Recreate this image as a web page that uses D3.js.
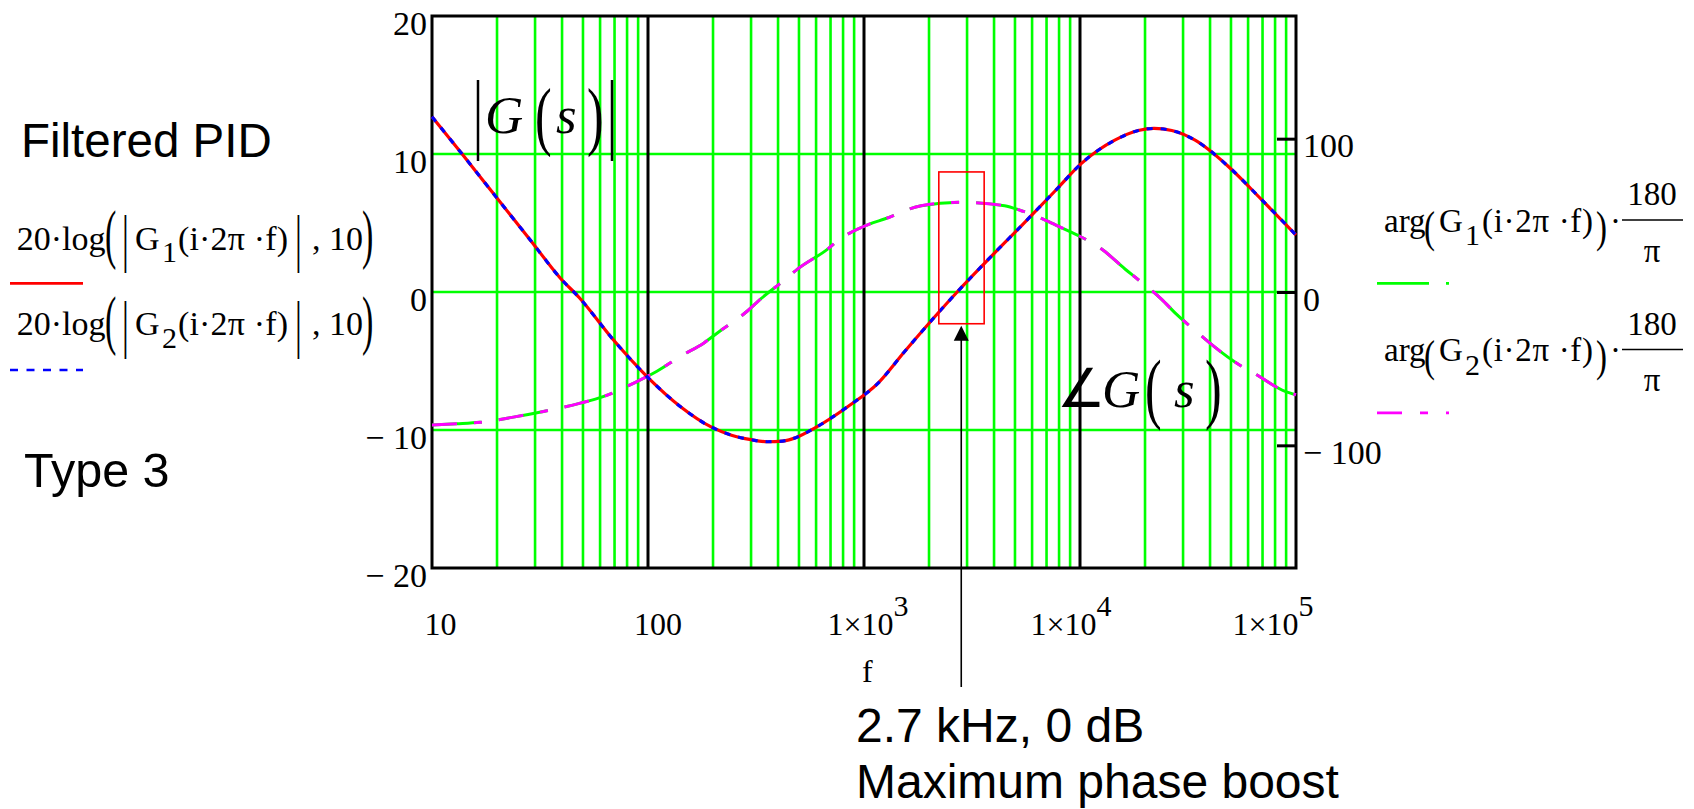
<!DOCTYPE html>
<html>
<head>
<meta charset="utf-8">
<script src="https://cdn.jsdelivr.net/npm/d3@7"></script>
<style>
  body { margin: 0; background: #fff; }
</style>
</head>
<body>
<div class="canvas"></div>
<script>
// ---- data ----
const magFreq = [10, 13.7, 19.2, 28.5, 39.3, 48, 69.4, 100, 141.5, 195, 241.5, 300, 357, 420, 492, 588, 840, 1159, 1539, 2198, 2700, 3615, 5353, 7643, 10160, 14490, 18620, 22000, 26600, 34120, 48750, 69500, 100000];
const magG1 = [12.7, 10.05, 7.15, 3.77, 1.0, -0.4, -3.5, -6.2, -8.31, -9.76, -10.36, -10.7, -10.85, -10.8, -10.5, -9.88, -8.31, -6.62, -4.33, -1.54, 0, 2.08, 4.8, 7.3, 9.32, 11.0, 11.7, 11.85, 11.7, 11.0, 9.08, 6.67, 4.13];
const magG2 = [12.7, 10.05, 7.15, 3.77, 1.0, -0.4, -3.5, -6.2, -8.31, -9.76, -10.36, -10.7, -10.85, -10.8, -10.5, -9.88, -8.31, -6.62, -4.33, -1.54, 0, 2.08, 4.8, 7.3, 9.32, 11.0, 11.7, 11.85, 11.7, 11.0, 9.08, 6.67, 4.13];

const phaseFreq = [10, 13, 16.7, 23.8, 32.8, 48.6, 62.4, 86, 110, 141.5, 181.6, 209.5, 288.5, 332.6, 434.5, 492, 678.5, 755, 1059, 1243, 1840, 2820, 4477, 5353, 6750, 7918, 10920, 12590, 16150, 18620, 23880, 27540, 36640, 40740, 56100, 63630, 89100, 100000];
const phaseG1 = [-86.8, -86, -85, -81.6, -77.9, -72.5, -68.1, -59.4, -51.7, -41.9, -33.2, -26.7, -12.4, -4.5, 8.5, 14.9, 28.0, 33.4, 44.3, 47.6, 56.3, 58.5, 56.3, 53.0, 47.6, 43, 33.4, 28.0, 15, 8, -4.8, -13.6, -28.8, -34.3, -48.5, -52.8, -64.8, -67];
const phaseG2 = [-86.8, -86, -85, -81.6, -77.9, -72.5, -68.1, -59.4, -51.7, -41.9, -33.2, -26.7, -12.4, -4.5, 8.5, 14.9, 28.0, 33.4, 44.3, 47.6, 56.3, 58.5, 56.3, 53.0, 47.6, 43, 33.4, 28.0, 15, 8, -4.8, -13.6, -28.8, -34.3, -48.5, -52.8, -64.8, -67];

const xTicks = [10, 100, 1e3, 1e4, 1e5];
const dbTicks = [-20, -10, 0, 10, 20];
const dbGrid = [-10, 0, 10];
const phaseTicks = [-100, 0, 100];
const decadeLines = [100, 1e3, 1e4];

// highlighted box and arrow (f in Hz, dB)
const boxF = [2220, 3600];
const boxDb = [-2.3, 8.7];
const arrowF = 2820;

// ---- layout ----
const serif = "'Liberation Serif', 'Times New Roman', serif";
const sans = "'Liberation Sans', Arial, sans-serif";
const plot = {left: 432, right: 1296, top: 16, bottom: 568};

const svg = d3.select('.canvas')
  .append('svg')
  .attr('width', 1694)
  .attr('height', 809)
  .style('display', 'block');

svg.append('rect').attr('width', 1694).attr('height', 809).attr('fill', '#fff');

const x = d3.scaleLog().domain([10, 1e5]).range([plot.left, plot.right]);
const y = d3.scaleLinear().domain([-20, 20]).range([plot.bottom, plot.top]);
const yPh = d3.scaleLinear().domain([-180, 180]).range([plot.bottom, plot.top]);

// grid
const grid = svg.append('g');
grid.selectAll('.vminor')
  .data(x.ticks().filter(f => !xTicks.includes(f)))
  .enter().append('line')
  .attr('x1', d => x(d)).attr('x2', d => x(d))
  .attr('y1', plot.top).attr('y2', plot.bottom)
  .attr('stroke', '#00ff00').attr('stroke-width', 2.6);
grid.selectAll('.hgrid')
  .data(dbGrid)
  .enter().append('line')
  .attr('x1', plot.left).attr('x2', plot.right)
  .attr('y1', d => y(d)).attr('y2', d => y(d))
  .attr('stroke', '#00ff00').attr('stroke-width', 2.6);
grid.selectAll('.vmajor')
  .data(decadeLines)
  .enter().append('line')
  .attr('x1', d => x(d)).attr('x2', d => x(d))
  .attr('y1', plot.top).attr('y2', plot.bottom)
  .attr('stroke', '#000').attr('stroke-width', 3);

svg.append('rect')
  .attr('x', plot.left).attr('y', plot.top)
  .attr('width', plot.right - plot.left).attr('height', plot.bottom - plot.top)
  .attr('fill', 'none').attr('stroke', '#000').attr('stroke-width', 3);

// axes
const yAxisG = svg.append('g')
  .attr('transform', `translate(${plot.left},0)`)
  .call(d3.axisLeft(y).tickValues(dbTicks).tickSize(0).tickPadding(5)
    .tickFormat(d => d < 0 ? '\u2212 ' + (-d) : String(d)));
yAxisG.select('.domain').remove();
yAxisG.attr('font-family', serif).attr('font-size', 34);
yAxisG.selectAll('text').attr('dy', 18).attr('fill', '#000');

const phAxisG = svg.append('g')
  .attr('transform', `translate(${plot.right},0)`)
  .call(d3.axisRight(yPh).tickValues(phaseTicks).tickSize(-19).tickPadding(8)
    .tickFormat(d => d < 0 ? '\u2212 ' + (-d) : String(d)));
phAxisG.select('.domain').remove();
phAxisG.attr('font-family', serif).attr('font-size', 34);
phAxisG.selectAll('line').attr('stroke', '#000').attr('stroke-width', 3);
phAxisG.selectAll('text').attr('dy', 18).attr('x', 7).attr('fill', '#000');

const xLabelShift = [8, 9.5, 3.5, -9.5, -23.5];
const xAxisG = svg.append('g')
  .attr('transform', `translate(0,${plot.bottom})`)
  .call(d3.axisBottom(x).tickValues(xTicks).tickSize(0).tickFormat(''));
xAxisG.select('.domain').remove();
xAxisG.attr('font-family', serif).attr('font-size', 32);
xAxisG.selectAll('text').each(function(d, i) {
  const t = d3.select(this).attr('y', 67).attr('dy', null).attr('x', xLabelShift[i]).attr('fill', '#000');
  const e = Math.round(Math.log10(d));
  if (e < 3) {
    t.text(String(d));
  } else {
    t.append('tspan').text('1\u00d710');
    t.append('tspan').attr('dy', -19).attr('font-size', 30).text(e);
  }
});

// curves
const line = d3.line().x(d => x(d.f)).y(d => d.yy).curve(d3.curveMonotoneX);
const mk = (fs, vs, sc) => fs.map((f, i) => ({f: f, yy: sc(vs[i])}));

const curves = svg.append('g').attr('fill', 'none');
curves.append('path').attr('d', line(mk(phaseFreq, phaseG1, yPh)))
  .attr('stroke', '#00ff00').attr('stroke-width', 3).attr('stroke-dasharray', '50,17');
curves.append('path').attr('d', line(mk(phaseFreq, phaseG2, yPh)))
  .attr('stroke', '#ff00ff').attr('stroke-width', 3).attr('stroke-dasharray', '25,17,8,17');
curves.append('path').attr('d', line(mk(magFreq, magG1, y)))
  .attr('stroke', '#ff0000').attr('stroke-width', 3.2);
curves.append('path').attr('d', line(mk(magFreq, magG2, y)))
  .attr('stroke', '#0000ff').attr('stroke-width', 3.2).attr('stroke-dasharray', '6,8');

// highlight box and arrow
svg.append('rect')
  .attr('x', x(boxF[0])).attr('y', y(boxDb[1]))
  .attr('width', x(boxF[1]) - x(boxF[0])).attr('height', y(boxDb[0]) - y(boxDb[1]))
  .attr('fill', 'none').attr('stroke', '#ff0000').attr('stroke-width', 1.6);
const ax = x(arrowF);
const tipY = y(boxDb[0]) + 2;
svg.append('line')
  .attr('x1', ax).attr('x2', ax).attr('y1', tipY + 10).attr('y2', 687)
  .attr('stroke', '#000').attr('stroke-width', 1.6);
svg.append('path')
  .attr('d', `M${ax},${tipY} L${ax - 7.5},${tipY + 15} L${ax + 7.5},${tipY + 15} Z`)
  .attr('fill', '#000');

// ---- math-style text pieces ----
function pieces(g, baseY, list, size) {
  list.forEach(p => {
    const fs = p.size || size;
    const t = g.append('text')
      .attr('font-family', p.font || serif)
      .attr('font-size', fs)
      .attr('font-style', p.italic ? 'italic' : null)
      .attr('fill', '#000')
      .text(p.t);
    if (p.len) t.attr('textLength', p.len).attr('lengthAdjust', 'spacing');
    const by = baseY + (p.dy || 0);
    if (p.sy) {
      const c = 0.25 * fs;
      t.attr('transform', `translate(${p.x},${by - p.ct}) scale(1,${p.sy}) translate(0,${c})`);
    } else {
      t.attr('x', p.x).attr('y', by);
    }
  });
}

const ann = svg.append('g');
pieces(ann, 133, [
  {t: '|', x: 473, sy: 1.78, ct: 13},
  {t: 'G', x: 485, italic: true, size: 53},
  {t: '(', x: 535, sy: 1.54, ct: 11.5},
  {t: 's', x: 556, italic: true, size: 53},
  {t: ')', x: 587, sy: 1.54, ct: 11.5},
  {t: '|', x: 607, sy: 1.78, ct: 13}
], 50);
pieces(ann, 407, [
  {t: '\u2220', x: 1057, font: "'DejaVu Sans', sans-serif", size: 54},
  {t: 'G', x: 1102, italic: true, size: 53},
  {t: '(', x: 1145, sy: 1.56, ct: 13},
  {t: 's', x: 1174, italic: true, size: 53},
  {t: ')', x: 1205, sy: 1.56, ct: 13}
], 50);

// left legend
const legL = svg.append('g');
[{sub: '1', base: 249.5, ly: 283.3, color: '#ff0000', dash: null},
 {sub: '2', base: 335, ly: 370, color: '#0000ff', dash: '8,8.5'}].forEach(r => {
  pieces(legL, r.base, [
    {t: '20\u00b7log', x: 16.7},
    {t: '(', x: 105, sy: 1.93, ct: 9.5},
    {t: '|', x: 122, sy: 1.85, ct: 6.2},
    {t: 'G', x: 135},
    {t: r.sub, x: 162, dy: 12.5, size: 30},
    {t: '(i\u00b72\u03c0 \u00b7f)', x: 178, len: 110},
    {t: '|', x: 295, sy: 1.85, ct: 6.2},
    {t: ', 10', x: 312},
    {t: ')', x: 362, sy: 1.93, ct: 9.5}
  ], 34);
  legL.append('line')
    .attr('x1', 10).attr('x2', 83).attr('y1', r.ly).attr('y2', r.ly)
    .attr('stroke', r.color).attr('stroke-width', 2.7)
    .attr('stroke-dasharray', r.dash);
});

// right legend
const legR = svg.append('g');
[{sub: '1', base: 231.7, color: '#00ff00', dash: '52,17,3,100'},
 {sub: '2', base: 361.2, color: '#ff00ff', dash: '25,18,8,18,3,100'}].forEach(r => {
  pieces(legR, r.base, [
    {t: 'arg', x: 1384},
    {t: '(', x: 1424, sy: 1.32, ct: 0.8},
    {t: 'G', x: 1439},
    {t: r.sub, x: 1465, dy: 13.5, size: 30},
    {t: '(i\u00b72\u03c0 \u00b7f)', x: 1482, len: 111},
    {t: ')', x: 1596, sy: 1.32, ct: 0.8},
    {t: '\u00b7', x: 1610}
  ], 33);
  legR.append('text').attr('x', 1652).attr('y', r.base - 26.7)
    .attr('text-anchor', 'middle').attr('font-family', serif).attr('font-size', 33).text('180');
  legR.append('line').attr('x1', 1622).attr('x2', 1683)
    .attr('y1', r.base - 11.7).attr('y2', r.base - 11.7)
    .attr('stroke', '#000').attr('stroke-width', 1.6);
  legR.append('text').attr('x', 1652).attr('y', r.base + 30)
    .attr('text-anchor', 'middle').attr('font-family', serif).attr('font-size', 33).text('\u03c0');
  legR.append('line')
    .attr('x1', 1377).attr('x2', 1449).attr('y1', r.base + 51.6).attr('y2', r.base + 51.6)
    .attr('stroke', r.color).attr('stroke-width', 2.7)
    .attr('stroke-dasharray', r.dash);
});

// plain labels
svg.append('text').attr('x', 21).attr('y', 156.7)
  .attr('font-family', sans).attr('font-size', 47.5).text('Filtered PID');
svg.append('text').attr('x', 24).attr('y', 486.7)
  .attr('font-family', sans).attr('font-size', 48.5).text('Type 3');
svg.append('text').attr('x', 862).attr('y', 682)
  .attr('font-family', serif).attr('font-size', 32).text('f');
svg.append('text').attr('x', 856).attr('y', 742)
  .attr('font-family', sans).attr('font-size', 48).text('2.7 kHz, 0 dB');
svg.append('text').attr('x', 856).attr('y', 798)
  .attr('font-family', sans).attr('font-size', 48).text('Maximum phase boost');
</script>
</body>
</html>
